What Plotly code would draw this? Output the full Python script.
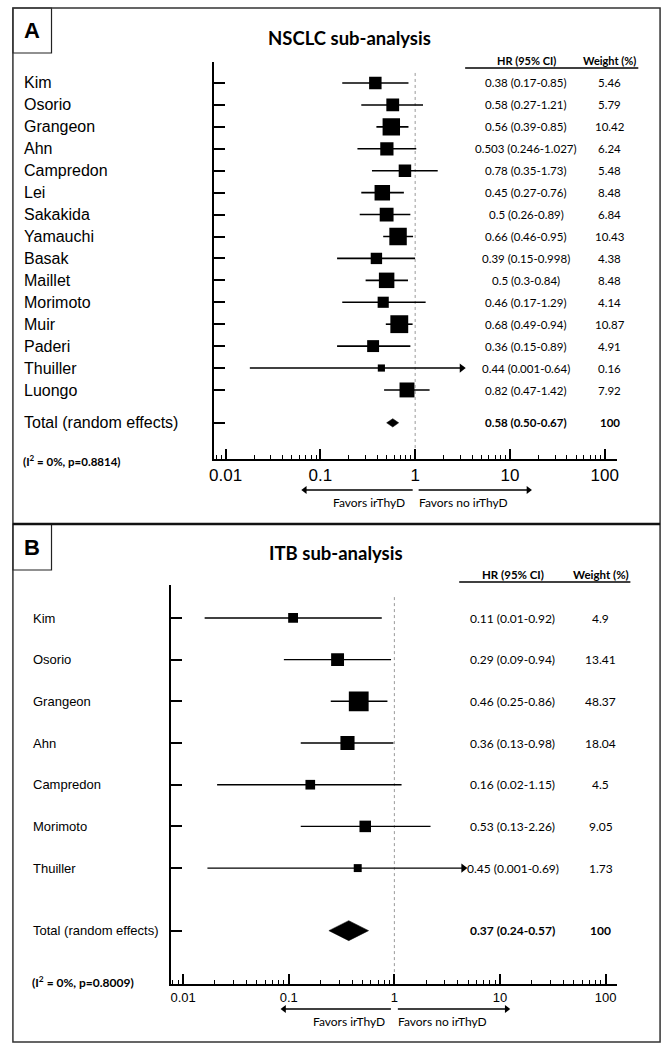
import numpy as np
import plotly.graph_objects as go

W, H = 669, 1050

# ---------------- data: panel A (NSCLC) ----------------
a_names = ["Kim", "Osorio", "Grangeon", "Ahn", "Campredon", "Lei", "Sakakida", "Yamauchi",
           "Basak", "Maillet", "Morimoto", "Muir", "Paderi", "Thuiller", "Luongo"]
a_hr = [0.38, 0.58, 0.56, 0.503, 0.78, 0.45, 0.5, 0.66, 0.39, 0.5, 0.46, 0.68, 0.36, 0.44, 0.82]
# CI as drawn in the picture (Thuiller's line is clipped and ends with an arrow)
a_lo = [0.17, 0.27, 0.39, 0.246, 0.35, 0.27, 0.26, 0.46, 0.15, 0.3, 0.17, 0.49, 0.15, 0.018, 0.47]
a_hi = [0.85, 1.21, 0.85, 1.027, 1.73, 0.76, 0.89, 0.95, 0.998, 0.84, 1.29, 0.94, 0.89, 3.1, 1.42]
a_ci_text = ["0.38 (0.17-0.85)", "0.58 (0.27-1.21)", "0.56 (0.39-0.85)", "0.503 (0.246-1.027)",
             "0.78 (0.35-1.73)", "0.45 (0.27-0.76)", "0.5 (0.26-0.89)", "0.66 (0.46-0.95)",
             "0.39 (0.15-0.998)", "0.5 (0.3-0.84)", "0.46 (0.17-1.29)", "0.68 (0.49-0.94)",
             "0.36 (0.15-0.89)", "0.44 (0.001-0.64)", "0.82 (0.47-1.42)"]
a_weight = [5.46, 5.79, 10.42, 6.24, 5.48, 8.48, 6.84, 10.43, 4.38, 8.48, 4.14, 10.87, 4.91, 0.16, 7.92]
a_arrow = ["Thuiller"]
a_total = [0.58, 0.50, 0.67]
a_total_text = "0.58 (0.50-0.67)"
a_total_weight = "100"
a_het = "(I<sup>2</sup> = 0%, p=0.8814)"
a_title = "NSCLC sub-analysis"

# ---------------- data: panel B (ITB) ----------------
b_names = ["Kim", "Osorio", "Grangeon", "Ahn", "Campredon", "Morimoto", "Thuiller"]
b_hr = [0.11, 0.29, 0.46, 0.36, 0.16, 0.53, 0.45]
b_lo = [0.016, 0.09, 0.25, 0.13, 0.021, 0.13, 0.017]
b_hi = [0.76, 0.93, 0.86, 0.98, 1.17, 2.2, 4.5]
b_ci_text = ["0.11 (0.01-0.92)", "0.29 (0.09-0.94)", "0.46 (0.25-0.86)", "0.36 (0.13-0.98)",
             "0.16 (0.02-1.15)", "0.53 (0.13-2.26)", "0.45 (0.001-0.69)"]
b_weight = [4.9, 13.41, 48.37, 18.04, 4.5, 9.05, 1.73]
b_arrow = ["Thuiller"]
b_total = [0.37, 0.24, 0.57]
b_total_text = "0.37 (0.24-0.57)"
b_total_weight = "100"
b_het = "(I<sup>2</sup> = 0%, p=0.8009)"
b_title = "ITB sub-analysis"

tick_vals = [0.01, 0.1, 1, 10, 100]
tick_text = ["0.01", "0.1", "1", "10", "100"]


def px(x):
    return x / W


def py(y):
    return 1 - y / H


ARIAL = "Liberation Sans, Arial, sans-serif"
CAL = "Lato, Carlito, Calibri, sans-serif"

fig = go.Figure()
annotations = []
shapes = []
# decoration overlay (pixel space) for the "Favors" arrows
ov_lines_x, ov_lines_y = [], []
ov_head_x, ov_head_y, ov_head_sym = [], [], []


def add_panel(names, hr, lo, hi, ci_text, weight, arrow, total, total_text, total_weight,
              het, title, xa, ya, cfg):
    n = len(names)
    rows = list(range(n))
    trow = n - 1 + 1.5
    xr = "x" if xa == 1 else "x%d" % xa
    yr = "y" if ya == 1 else "y%d" % ya
    # reference line at HR = 1
    fig.add_trace(go.Scatter(x=[1, 1], y=[cfg["ref_top"], cfg["ybot"]], mode="lines",
                             line=dict(color="#9a9a9a", width=1, dash="dot"),
                             xaxis=xr, yaxis=yr, hoverinfo="skip", showlegend=False))
    # CI lines
    xs, ys = [], []
    for r, l, h in zip(rows, lo, hi):
        xs += [l, h, None]
        ys += [r, r, None]
    fig.add_trace(go.Scatter(x=xs, y=ys, mode="lines", line=dict(color="black", width=cfg["lw"]),
                             xaxis=xr, yaxis=yr, hoverinfo="skip", showlegend=False))
    # arrowheads for clipped CIs
    ax_x = [h for nm, h in zip(names, hi) if nm in arrow]
    ax_y = [r for nm, r in zip(names, rows) if nm in arrow]
    fig.add_trace(go.Scatter(x=ax_x, y=ax_y, mode="markers",
                             marker=dict(symbol="triangle-right", size=8, color="black",
                                         opacity=1, line=dict(width=0)),
                             xaxis=xr, yaxis=yr, hoverinfo="skip", showlegend=False))
    # squares
    sizes = [cfg["size"](w) for w in weight]
    fig.add_trace(go.Scatter(x=hr, y=rows, mode="markers",
                             marker=dict(symbol="square", size=sizes, color="black", opacity=1,
                                         line=dict(width=0)),
                             xaxis=xr, yaxis=yr, hoverinfo="skip", showlegend=False))
    # diamond
    est, tl, th = total
    dh = cfg["dh"]
    fig.add_trace(go.Scatter(x=[tl, est, th, est, tl], y=[trow, trow - dh, trow, trow + dh, trow],
                             mode="lines", fill="toself", fillcolor="black", line=dict(color="black", width=0.5),
                             xaxis=xr, yaxis=yr, hoverinfo="skip", showlegend=False))

    # axes
    xkey = "xaxis" if xa == 1 else "xaxis%d" % xa
    ykey = "yaxis" if ya == 1 else "yaxis%d" % ya
    fig.layout[xkey] = dict(type="log", range=cfg["xrange"], domain=[px(cfg["x0"]), px(cfg["x1"])],
                            anchor=yr, showline=True, linewidth=2, linecolor="black",
                            ticks="inside", ticklen=10, tickwidth=2, tickcolor="black",
                            tickvals=tick_vals, ticktext=tick_text,
                            tickfont=dict(family=ARIAL, size=cfg["tickfs"], color="black"),
                            minor=dict(ticks="inside", ticklen=4, tickwidth=1, tickcolor="black",
                                       dtick="D1", showgrid=False),
                            showgrid=False, zeroline=False, fixedrange=True)
    fig.layout[ykey] = dict(range=[cfg["ybot"], cfg["ytop"]], domain=[py(cfg["py1"]), py(cfg["py0"])],
                            anchor=xr, showline=True, linewidth=2, linecolor="black",
                            ticks="inside", ticklen=11, tickwidth=1.5, tickcolor="black",
                            tickvals=rows + [trow], showticklabels=False,
                            showgrid=False, zeroline=False, fixedrange=True)

    # text columns
    def rowpx(r):
        return cfg["row0"] + r * cfg["dy"]

    for r, nm, ct, w in zip(rows, names, ci_text, weight):
        annotations.append(dict(x=px(cfg["namex"]), y=py(rowpx(r)), xref="paper", yref="paper",
                                text=nm, showarrow=False, xanchor="left", yanchor="middle",
                                font=dict(family=ARIAL, size=cfg["namefs"], color="black")))
        annotations.append(dict(x=px(cfg["hrx"]), y=py(rowpx(r)), xref="paper", yref="paper",
                                text=ct, showarrow=False, xanchor="center", yanchor="middle",
                                font=dict(family=CAL, size=cfg["colfs"], color="black")))
        annotations.append(dict(x=px(cfg["wx"]), y=py(rowpx(r)), xref="paper", yref="paper",
                                text=f"{w:g}", showarrow=False, xanchor="center", yanchor="middle",
                                font=dict(family=CAL, size=cfg["colfs"], color="black")))
    annotations.append(dict(x=px(cfg["namex"]), y=py(rowpx(trow)), xref="paper", yref="paper",
                            text="Total (random effects)", showarrow=False, xanchor="left", yanchor="middle",
                            font=dict(family=ARIAL, size=cfg["namefs"], color="black")))
    annotations.append(dict(x=px(cfg["hrx"]), y=py(rowpx(trow)), xref="paper", yref="paper",
                            text="<b>%s</b>" % total_text, showarrow=False, xanchor="center", yanchor="middle",
                            font=dict(family=CAL, size=cfg["colfs"], color="black")))
    annotations.append(dict(x=px(cfg["wx"]), y=py(rowpx(trow)), xref="paper", yref="paper",
                            text="<b>%s</b>" % total_weight, showarrow=False, xanchor="center", yanchor="middle",
                            font=dict(family=CAL, size=cfg["colfs"], color="black")))
    # headers
    for txt, xx in (("HR (95% CI)", cfg["hrx"]), ("Weight (%)", cfg["wx"])):
        annotations.append(dict(x=px(xx), y=py(cfg["hdry"]), xref="paper", yref="paper",
                                text="<b>%s</b>" % txt, showarrow=False, xanchor="center", yanchor="middle",
                                font=dict(family=CAL, size=cfg["hdrfs"], color="black")))
    shapes.append(dict(type="line", xref="paper", yref="paper", x0=px(cfg["ul"][0]), x1=px(cfg["ul"][1]),
                       y0=py(cfg["uly"]), y1=py(cfg["uly"]), line=dict(color="black", width=1.5)))
    # title
    annotations.append(dict(x=px(cfg["titlex"]), y=py(cfg["titley"]), xref="paper", yref="paper",
                            text="<b>%s</b>" % title, showarrow=False, xanchor="center", yanchor="middle",
                            font=dict(family=CAL, size=cfg["titlefs"], color="black")))
    # heterogeneity
    annotations.append(dict(x=px(cfg["hetx"]), y=py(cfg["hety"]), xref="paper", yref="paper",
                            text="<b>%s</b>" % het, showarrow=False, xanchor="left", yanchor="middle",
                            font=dict(family=CAL, size=cfg["hetfs"], color="black")))
    # favors arrows (drawn on the pixel overlay)
    fy = cfg["favy"]
    l_tip, l_tail, r_tail, r_tip = cfg["fav"]
    ov_lines_x.extend([l_tail, l_tip + 4, None, r_tail, r_tip - 4, None])
    ov_lines_y.extend([fy, fy, None, fy, fy, None])
    ov_head_x.extend([l_tip + 3, r_tip - 3])
    ov_head_y.extend([fy, fy])
    ov_head_sym.extend(["triangle-left", "triangle-right"])
    annotations.append(dict(x=px(cfg["favtx"][0]), y=py(cfg["favty"]), xref="paper", yref="paper",
                            text="Favors irThyD", showarrow=False, xanchor="center", yanchor="middle",
                            font=dict(family=CAL, size=cfg["favfs"], color="black")))
    annotations.append(dict(x=px(cfg["favtx"][1]), y=py(cfg["favty"]), xref="paper", yref="paper",
                            text="Favors no irThyD", showarrow=False, xanchor="center", yanchor="middle",
                            font=dict(family=CAL, size=cfg["favfs"], color="black")))
    # panel letter
    bx0, by0, bx1, by1 = cfg["letterbox"]
    shapes.append(dict(type="rect", xref="paper", yref="paper", x0=px(bx0), x1=px(bx1),
                       y0=py(by1), y1=py(by0), line=dict(color="#222", width=1.2)))
    annotations.append(dict(x=px((bx0 + bx1) / 2), y=py((by0 + by1) / 2), xref="paper", yref="paper",
                            text="<b>%s</b>" % cfg["letter"], showarrow=False, xanchor="center",
                            yanchor="middle", font=dict(family=ARIAL, size=22, color="black")))


cfgA = dict(x0=211, x1=618, xrange=[-2.125, 2.125], py0=62, py1=459,
            row0=83, dy=21.93, ytop=-0.96, ybot=17.15, ref_top=-0.46,
            lw=1.6, size=lambda w: 7 + w, dh=0.19, tickfs=17,
            namex=17, namefs=16, hrx=527, wx=611, colfs=11.5, hdrfs=11, hdry=60, ul=(465, 640), uly=68,
            titlex=348, titley=38, titlefs=18.5, hetx=16, hety=460, hetfs=11.5,
            favy=490, fav=(300, 412, 418, 532), favtx=(368, 463), favty=502, favfs=12,
            letterbox=(8, 8, 47, 53), letter="A")
cfgB = dict(x0=168, x1=618, xrange=[-2.112, 2.103], py0=585, py1=984,
            row0=618, dy=41.67, ytop=-0.79, ybot=8.78, ref_top=-0.5,
            lw=1.4, size=lambda w: 5.2 + 2.1 * np.sqrt(w), dh=0.24, tickfs=13,
            namex=26, namefs=13, hrx=513, wx=602, colfs=12, hdrfs=11.5, hdry=574, ul=(459, 632), uly=582,
            titlex=334, titley=553, titlefs=18.5, hetx=25, hety=982, hetfs=12,
            favy=1009, fav=(279, 390, 397, 510), favtx=(348, 442), favty=1021, favfs=12,
            letterbox=(8, 524, 47, 570), letter="B")

add_panel(a_names, a_hr, a_lo, a_hi, a_ci_text, a_weight, a_arrow, a_total, a_total_text,
          a_total_weight, a_het, a_title, 1, 1, cfgA)
add_panel(b_names, b_hr, b_lo, b_hi, b_ci_text, b_weight, b_arrow, b_total, b_total_text,
          b_total_weight, b_het, b_title, 2, 2, cfgB)

# pixel-space overlay for the direction arrows
fig.add_trace(go.Scatter(x=ov_lines_x, y=ov_lines_y, mode="lines", line=dict(color="black", width=1.5),
                         xaxis="x3", yaxis="y3", hoverinfo="skip", showlegend=False))
fig.add_trace(go.Scatter(x=ov_head_x, y=ov_head_y, mode="markers",
                         marker=dict(symbol=ov_head_sym, size=7, color="black", opacity=1, line=dict(width=0)),
                         xaxis="x3", yaxis="y3", hoverinfo="skip", showlegend=False))
fig.layout["xaxis3"] = dict(domain=[0, 1], range=[0, W], visible=False, anchor="y3", fixedrange=True)
fig.layout["yaxis3"] = dict(domain=[0, 1], range=[H, 0], visible=False, anchor="x3", fixedrange=True)

# outer frames
shapes.append(dict(type="rect", xref="paper", yref="paper", x0=px(8), x1=px(662), y0=py(1042), y1=py(8),
                   line=dict(color="#333", width=1.5)))
shapes.append(dict(type="line", xref="paper", yref="paper", x0=px(8), x1=px(662), y0=py(524), y1=py(524),
                   line=dict(color="#111", width=2.5)))

fig.update_layout(width=W, height=H, margin=dict(l=0, r=0, t=0, b=0),
                  paper_bgcolor="white", plot_bgcolor="rgba(0,0,0,0)",
                  annotations=annotations, shapes=shapes, showlegend=False)

fig.write_html("out.html", config={"displayModeBar": False},
               post_script="document.body.style.margin='0';document.body.style.overflow='hidden';")
